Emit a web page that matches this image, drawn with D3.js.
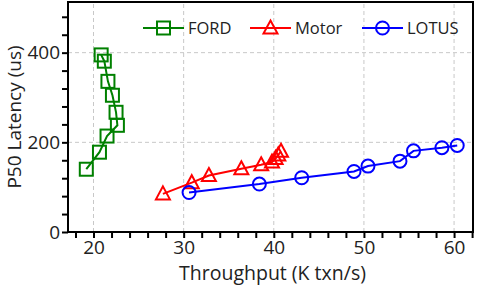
<!DOCTYPE html>
<html>
<head>
<meta charset="utf-8">
<script src="https://cdn.jsdelivr.net/npm/d3@7"></script>
<style>
  body { margin: 0; background: #fff; }
  text { font-family: "Open Sans", "Noto Sans", sans-serif; fill: #222; }
</style>
</head>
<body>
<div id="chart"></div>
<script>
'use strict';

// series values: throughput (K txn/s), P50 latency (us)
var fordX  = [19.2, 20.66, 21.5, 22.65, 22.5, 22.1, 21.6, 21.2, 20.85];
var fordY  = [140, 178, 214, 238, 267, 305, 336, 381, 395];
var motorX = [27.7, 30.9, 32.8, 36.4, 38.6, 39.8, 40.2, 40.5, 40.8];
var motorY = [85, 110, 126, 141, 150, 156, 164, 172, 180];
var lotusX = [30.6, 38.4, 43.1, 48.9, 50.45, 54.0, 55.5, 58.65, 60.35];
var lotusY = [88, 107, 121, 135, 147, 158, 181, 188, 193];

var seriesNames = ["FORD", "Motor", "LOTUS"];
var xTicks = [20, 30, 40, 50, 60];
var yTicks = [0, 200, 400];

var width = 479, height = 287;
var margin = {left: 68, right: 6, top: 2, bottom: 55};

var svg = d3.select("#chart").append("svg")
    .attr("width", width)
    .attr("height", height);

var x = d3.scaleLinear()
    .domain([17.17, 62.1])
    .range([margin.left, width - margin.right]);
var y = d3.scaleLinear()
    .domain([0, 513])
    .range([height - margin.bottom, margin.top]);

var series = [
  {name: seriesNames[0], xs: fordX,  ys: fordY,  color: "#008000", shape: "square"},
  {name: seriesNames[1], xs: motorX, ys: motorY, color: "#ff0000", shape: "triangle"},
  {name: seriesNames[2], xs: lotusX, ys: lotusY, color: "#0000ff", shape: "circle"}
];

// grid
var grid = svg.append("g").attr("class", "grid")
    .attr("stroke", "#c8c8c8")
    .attr("stroke-dasharray", "4,3")
    .attr("stroke-width", 1);
grid.selectAll("line.gx").data(xTicks).enter().append("line")
    .attr("x1", function(d) { return x(d); })
    .attr("x2", function(d) { return x(d); })
    .attr("y1", y.range()[0])
    .attr("y2", y.range()[1]);
grid.selectAll("line.gy").data(yTicks.slice(1)).enter().append("line")
    .attr("y1", function(d) { return y(d); })
    .attr("y2", function(d) { return y(d); })
    .attr("x1", x.range()[0])
    .attr("x2", x.range()[1]);

// axes with minor ticks
var xAxis = svg.append("g")
    .attr("transform", "translate(0," + y.range()[0] + ")")
    .call(d3.axisBottom(x).tickValues(d3.range(18, 62.1, 2))
      .tickFormat(function(d) { return xTicks.indexOf(d) >= 0 ? d : ""; })
      .tickSize(6).tickPadding(3));
var yAxis = svg.append("g")
    .attr("transform", "translate(" + x.range()[0] + ",0)")
    .call(d3.axisLeft(y).tickValues(d3.range(0, 481, 40))
      .tickFormat(function(d) { return yTicks.indexOf(d) >= 0 ? d : ""; })
      .tickSize(6).tickPadding(2));
[xAxis, yAxis].forEach(function(a) {
  a.select(".domain").remove();
  a.selectAll(".tick line").attr("stroke", "#000").attr("stroke-width", 2);
  a.selectAll(".tick text").style("font-size", "19px").attr("fill", "#222");
});

// frame
svg.append("rect")
    .attr("x", x.range()[0])
    .attr("y", y.range()[1])
    .attr("width", x.range()[1] - x.range()[0])
    .attr("height", y.range()[0] - y.range()[1])
    .attr("fill", "none")
    .attr("stroke", "#000")
    .attr("stroke-width", 2);

// axis titles
svg.append("text")
    .attr("x", (x.range()[0] + x.range()[1]) / 2 + 2)
    .attr("y", 280)
    .attr("text-anchor", "middle")
    .style("font-size", "19.5px")
    .text("Throughput (K txn/s)");
svg.append("text")
    .attr("transform", "translate(21," + ((y.range()[0] + y.range()[1]) / 2) + ")rotate(-90)")
    .attr("text-anchor", "middle")
    .style("font-size", "19px")
    .text("P50 Latency (us)");

function marker(g, shape, color) {
  if (shape === "square") {
    g.append("rect").attr("x", -6.5).attr("y", -6.5).attr("width", 13).attr("height", 13);
  } else if (shape === "triangle") {
    g.append("path").attr("d", "M0,-7.5L7,5.5L-7,5.5Z");
  } else {
    g.append("circle").attr("r", 6.5);
  }
  g.selectAll("*").attr("fill", "none").attr("stroke", color).attr("stroke-width", 2);
}

var line = d3.line()
    .x(function(d) { return x(d[0]); })
    .y(function(d) { return y(d[1]); });

series.forEach(function(s) {
  var pts = d3.zip(s.xs, s.ys);
  svg.append("path")
      .datum(pts)
      .attr("d", line)
      .attr("fill", "none")
      .attr("stroke", s.color)
      .attr("stroke-width", 2);
  svg.selectAll(null).data(pts).enter().append("g")
      .attr("transform", function(d) { return "translate(" + x(d[0]) + "," + y(d[1]) + ")"; })
      .each(function() { marker(d3.select(this), s.shape, s.color); });
});

// legend
var legendX = [143, 250, 362];
series.forEach(function(s, i) {
  var lg = svg.append("g").attr("transform", "translate(" + legendX[i] + ",28)");
  lg.append("line").attr("x1", 0).attr("x2", 41)
      .attr("stroke", s.color).attr("stroke-width", 2);
  var m = lg.append("g").attr("transform", "translate(20.5,0)");
  marker(m, s.shape, s.color);
  lg.append("text").attr("x", 45).attr("y", 6)
      .style("font-size", "16.5px")
      .text(s.name);
});
</script>
</body>
</html>
